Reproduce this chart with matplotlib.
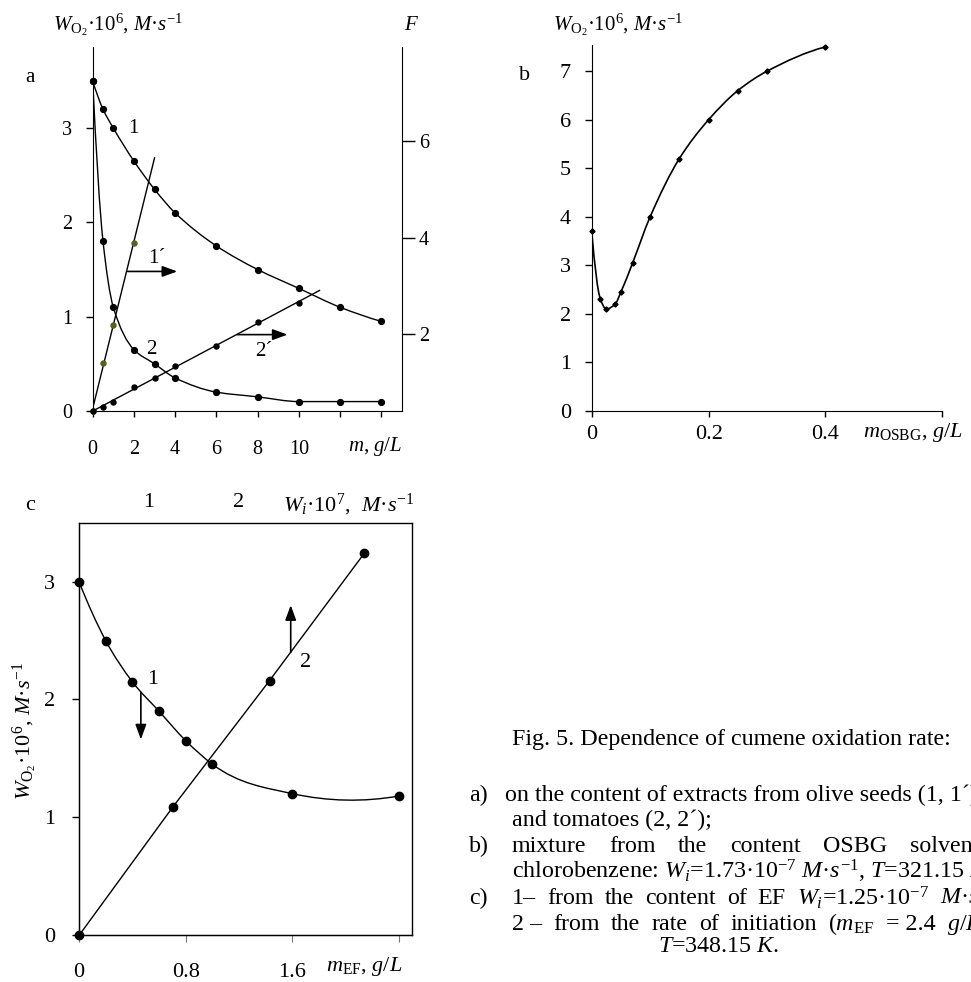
import numpy as np
import matplotlib
matplotlib.use('Agg')
import matplotlib.pyplot as plt
from matplotlib.path import Path
from matplotlib.patches import PathPatch

plt.rcParams['font.family'] = ['Liberation Serif', 'DejaVu Serif']
plt.rcParams['mathtext.fontset'] = 'custom'
plt.rcParams['mathtext.rm'] = 'Liberation Serif'
plt.rcParams['mathtext.it'] = 'Liberation Serif:italic'
plt.rcParams['mathtext.bf'] = 'Liberation Serif:bold'

W, H = 971, 982

# --- panel a: olive seeds (1, 1') and tomatoes (2, 2') ---
a_m = [0, 0.5, 1, 2, 3, 4, 6, 8, 10, 12, 14]
a_w1 = [3.5, 3.2, 3.0, 2.65, 2.35, 2.1, 1.75, 1.5, 1.3, 1.1, 0.95]
a_w2 = [3.5, 1.8, 1.1, 0.65, 0.5, 0.35, 0.2, 0.15, 0.1, 0.1, 0.1]
a_m1p = [0, 0.5, 1, 2]
a_f1p = [0.4, 1.4, 2.2, 3.9]
a_m2p = [0, 0.5, 1, 2, 3, 4, 6, 8, 10]
a_f2p = [0.4, 0.5, 0.6, 0.9, 1.1, 1.35, 1.75, 2.25, 2.65]
a_xticks = [0, 2, 4, 6, 8, 10, 12, 14]
a_xlabels = ['0', '2', '4', '6', '8', '10', '', '']

# --- panel b: OSBG mixture ---
b_m = [0, 0.015, 0.025, 0.04, 0.05, 0.07, 0.1, 0.15, 0.2, 0.25, 0.3, 0.4]
b_w = [3.7, 2.3, 2.1, 2.2, 2.45, 3.05, 4.0, 5.2, 6.0, 6.6, 7.0, 7.5]

# --- panel c: EF content (1) and initiation rate (2) ---
c_m = [0, 0.2, 0.4, 0.6, 0.8, 1.0, 1.6, 2.4]
c_w1 = [3.0, 2.5, 2.15, 1.9, 1.65, 1.45, 1.2, 1.18]
c_wi = [0.22, 1.27, 2.35, 3.41]
c_w2 = [0, 1.09, 2.16, 3.24]


def fx(x):
    return x / W


def fy(y):
    return 1 - y / H


def smooth_path(x, y, monotone=True):
    """hermite spline through the points, as bezier segments"""
    x = np.asarray(x, float)
    y = np.asarray(y, float)
    h = np.diff(x)
    d = np.diff(y) / h
    m = np.zeros_like(x)
    if monotone:
        for k in range(1, len(x) - 1):
            if d[k - 1] * d[k] > 0:
                w1 = 2 * h[k] + h[k - 1]
                w2 = h[k] + 2 * h[k - 1]
                m[k] = (w1 + w2) / (w1 / d[k - 1] + w2 / d[k])
    else:
        m[1:-1] = (h[1:] * d[:-1] + h[:-1] * d[1:]) / (h[:-1] + h[1:])
    m[0] = ((2 * h[0] + h[1]) * d[0] - h[0] * d[1]) / (h[0] + h[1])
    m[-1] = ((2 * h[-1] + h[-2]) * d[-1] - h[-1] * d[-2]) / (h[-1] + h[-2])
    if monotone:
        if np.sign(m[0]) != np.sign(d[0]):
            m[0] = 0
        if np.sign(m[-1]) != np.sign(d[-1]):
            m[-1] = 0
    verts = [(x[0], y[0])]
    codes = [Path.MOVETO]
    for k in range(len(h)):
        verts += [(x[k] + h[k] / 3, y[k] + m[k] * h[k] / 3),
                  (x[k + 1] - h[k] / 3, y[k + 1] - m[k + 1] * h[k] / 3),
                  (x[k + 1], y[k + 1])]
        codes += [Path.CURVE4] * 3
    return Path(verts, codes)


def arrow(ax, start, end):
    ax.annotate('', xy=end, xytext=start,
                arrowprops=dict(arrowstyle='-|>,head_length=0.6,head_width=0.22',
                                color='k', lw=1.2, mutation_scale=15,
                                shrinkA=0, shrinkB=0))


fig = plt.figure(figsize=(W / 100, H / 100), dpi=100)

# ---------------- panel a ----------------
axa = fig.add_axes([fx(92.7), fy(411), fx(309.3), 364 / H])
axa.set_xlim(0, 15)
axa.set_ylim(0, 3.86)
for s in ['top', 'right']:
    axa.spines[s].set_visible(False)
axa.set_xticks(a_xticks)
axa.set_xticklabels(a_xlabels)
axa.set_yticks([0, 1, 2, 3])
axa.tick_params(axis='x', direction='out', length=4, width=1, pad=17, labelsize=14.5)
axa.tick_params(axis='y', direction='out', length=5, width=1, pad=10, labelsize=14.5)

axa.add_patch(PathPatch(smooth_path(a_m, a_w1), fill=False, lw=1.0, ec='k'))
axa.add_patch(PathPatch(smooth_path(a_m, a_w2), fill=False, lw=1.0, ec='k'))
axa.plot(a_m, a_w1, 'o', color='k', ms=4.2, clip_on=False)
axa.plot(a_m, a_w2, 'o', color='k', ms=4.2, clip_on=False)

axF = axa.twinx()
axF.set_ylim(0.408, 7.952)
for s in ['top', 'left', 'bottom']:
    axF.spines[s].set_visible(False)
axF.set_yticks([2, 4, 6])
axF.tick_params(axis='y', direction='out', length=9, width=1, pad=3, labelsize=14.5)

k1 = np.polyfit(a_m1p, a_f1p, 1)
k2 = np.polyfit(a_m2p, a_f2p, 1)
axF.plot([0, 3], np.polyval(k1, [0, 3]), color='k', lw=1.0)
axF.plot([0, 11], np.polyval(k2, [0, 11]), color='k', lw=1.0)
axF.plot(a_m1p, a_f1p, 'o', color='#55621f', ms=3.6, clip_on=False)
axF.plot(a_m2p, a_f2p, 'o', color='k', ms=3.6, clip_on=False)

axa.text(1.95, 3.0, '1', fontsize=15, ha='center', va='center')
axa.text(2.85, 0.65, '2', fontsize=15, ha='center', va='center')
axa.text(3.1, 1.62, '1\u00b4', fontsize=15, ha='center', va='center')
axa.text(8.3, 0.63, '2\u00b4', fontsize=15, ha='center', va='center')
arrow(axa, (1.7, 1.48), (4.1, 1.48))
arrow(axa, (7.0, 0.81), (9.45, 0.81))

fig.text(fx(30), fy(78), 'a', fontsize=15, ha='center', va='center')
fig.text(fx(53), fy(25), r'$W_{\mathrm{O}_2}$·10$^6$, $M$·$s^{-1}$', fontsize=15,
         ha='left', va='center')
fig.text(fx(412), fy(25), '$F$', fontsize=15, ha='center', va='center')
fig.text(fx(348), fy(447), '$m$, $g/L$', fontsize=15, ha='left', va='center')

# ---------------- panel b ----------------
axb = fig.add_axes([fx(591.7), fy(411), fx(350.6), 366 / H])
axb.set_xlim(0, 0.6)
axb.set_ylim(0, 7.54)
for s in ['top', 'right']:
    axb.spines[s].set_visible(False)
axb.set_xticks([0, 0.2, 0.4, 0.6])
axb.set_xticklabels(['0', '0.2', '0.4', ''])
axb.set_yticks(range(8))
axb.tick_params(axis='x', direction='out', length=4, width=1, pad=6, labelsize=16)
axb.tick_params(axis='y', direction='out', length=5, width=1, pad=10, labelsize=16)
axb.add_patch(PathPatch(smooth_path(b_m, b_w), fill=False, lw=1.2, ec='k'))
axb.plot(b_m, b_w, 'D', color='k', ms=2.6, clip_on=False)

fig.text(fx(525), fy(76), 'b', fontsize=16, ha='center', va='center')
fig.text(fx(553), fy(25), r'$W_{\mathrm{O}_2}$·10$^6$, $M$·$s^{-1}$', fontsize=15,
         ha='left', va='center')
fig.text(fx(863), fy(432), r'$m_{\mathrm{OSBG}}$, $g/L$', fontsize=16,
         ha='left', va='center')

# ---------------- panel c ----------------
axc = fig.add_axes([fx(79), fy(935), fx(333.3), 412.3 / H])
axc.set_xlim(0, 2.5)
axc.set_ylim(0, 3.5)
axc.set_xticks([0, 0.8, 1.6, 2.4])
axc.set_xticklabels(['0', '0.8', '1.6', ''])
axc.set_yticks([0, 1, 2, 3])
axc.tick_params(axis='x', direction='out', length=5, width=0.8, color='#777',
                pad=15, labelsize=16)
axc.tick_params(axis='y', direction='out', length=5, width=1, pad=12, labelsize=16)
for s in axc.spines.values():
    s.set_linewidth(1.0)
axc.spines['top'].set_color('#444')
axc.spines['right'].set_color('#444')

axc.add_patch(PathPatch(smooth_path(c_m, c_w1, monotone=False), fill=False,
                        lw=1.0, ec='k'))
axc.plot(c_m, c_w1, 'o', color='k', ms=6, clip_on=False)

axt = axc.twiny()
axt.set_xlim(0.216, 3.948)
axt.set_xticks([1, 2])
axt.tick_params(axis='x', length=0, pad=8, labelsize=16)
axt.plot(c_wi, c_w2, color='k', lw=1.0, clip_on=False)
axt.plot(c_wi, c_w2, 'o', color='k', ms=6, clip_on=False)

axc.text(0.55, 2.17, '1', fontsize=16, ha='center', va='center')
axc.text(1.70, 2.31, '2', fontsize=16, ha='center', va='center')
arrow(axc, (0.464, 2.06), (0.464, 1.66))
arrow(axc, (1.588, 2.40), (1.588, 2.80))

fig.text(fx(30), fy(505), 'c', fontsize=16, ha='center', va='center')
fig.text(fx(283), fy(505), r'$W_i$·10$^7$,  $M$·$s^{-1}$', fontsize=16,
         ha='left', va='center')
fig.text(fx(25), fy(731), r'$W_{\mathrm{O}_2}$·10$^6$, $M$·$s^{-1}$', fontsize=16,
         ha='center', va='center', rotation=90)
fig.text(fx(326), fy(967), r'$m_{\mathrm{EF}}$, $g/L$', fontsize=16,
         ha='left', va='center')

# ---------------- caption ----------------
cap = 17.25


def justify(y, words, x0, x_last):
    # spread the words so that the last one starts at x_last
    texts = [fig.text(0, fy(y), w, fontsize=cap, ha='left', va='center')
             for w in words]
    r = fig.canvas.get_renderer()
    widths = [t.get_window_extent(r).width for t in texts[:-1]]
    gap = (x_last - x0 - sum(widths)) / (len(words) - 1)
    x = x0
    for t, w in zip(texts, widths + [0]):
        t.set_x(fx(x))
        x += w + gap


fig.text(fx(512), fy(740), 'Fig. 5. Dependence of cumene oxidation rate:',
         fontsize=cap, ha='left', va='center')
fig.text(fx(469), fy(795), 'a)', fontsize=cap, ha='left', va='center')
fig.text(fx(505), fy(795), 'on the content of extracts from olive seeds (1, 1\u00b4)',
         fontsize=cap, ha='left', va='center')
fig.text(fx(512), fy(820), 'and tomatoes (2, 2\u00b4);', fontsize=cap,
         ha='left', va='center')
fig.text(fx(469), fy(846), 'b)', fontsize=cap, ha='left', va='center')
justify(846, ['mixture', 'from', 'the', 'content', 'OSBG', 'solvent in'], 512, 910)
fig.text(fx(512), fy(871),
         r'chlorobenzene: $W_i$=1.73·10$^{-7}$ $M$·$s^{-1}$, $T$=321.15 $K$.',
         fontsize=cap, ha='left', va='center')
fig.text(fx(469), fy(898), 'c)', fontsize=cap, ha='left', va='center')
justify(898, ['1–', 'from', 'the', 'content', 'of', 'EF', r'$W_i$=1.25·10$^{-7}$',
              r'$M$·$s^{-1}$'], 512, 940)
justify(924, ['2 –', 'from', 'the', 'rate', 'of', 'initiation', r'($m_{\mathrm{EF}}$',
              '= 2.4', r'$g/L$),'], 512, 947)
fig.text(fx(658), fy(947), r'$T$=348.15 $K$.', fontsize=cap, ha='left', va='center')

fig.savefig('out.png', dpi=100)
